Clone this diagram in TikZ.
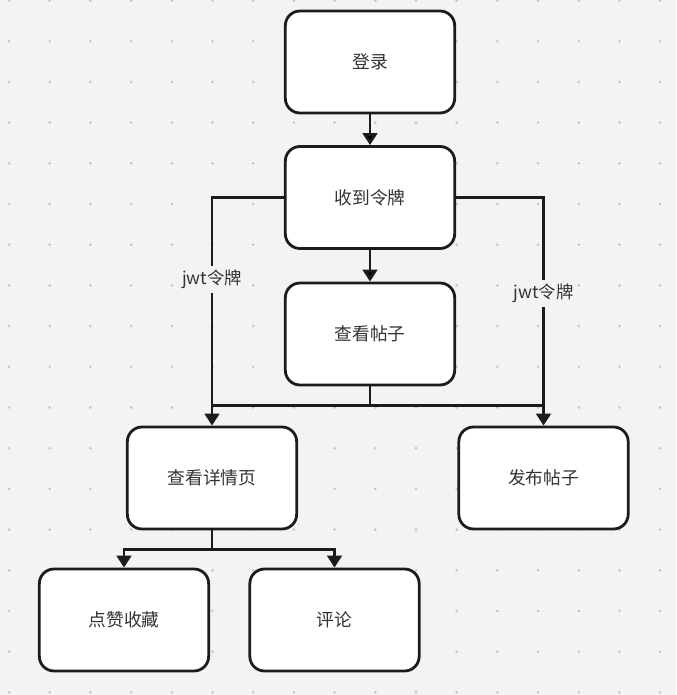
\documentclass[tikz,border=0pt]{standalone}
\usepackage{fontspec}
\setmainfont{Noto Sans CJK SC}
\usepackage{tikz}
\usetikzlibrary{arrows.meta, positioning}
\definecolor{bg}{HTML}{F3F3F5}
\definecolor{dotc}{HTML}{C6C6CA}
\definecolor{ink}{HTML}{1C1C1C}
\definecolor{txt}{HTML}{333333}

\begin{document}
\begin{tikzpicture}[x=0.75pt, y=-0.75pt,
	box/.style={draw=ink, fill=white, line width=2.1pt, rounded corners=11pt, minimum width=127pt, minimum height=76.5pt, inner sep=0pt, font=\fontsize{13.3}{15}\selectfont, text=txt},
	line/.style={draw=ink, line width=2pt},
	arr/.style={-{Triangle[width=11pt, length=9pt]}},
	lbl/.style={fill=bg, text=txt, inner sep=3pt, font=\fontsize{13}{15}\selectfont}]
		\useasboundingbox (0,0) rectangle (676,695);
		\fill[bg] (0,0) rectangle (676,695);
		\foreach \i in {0,...,16}
			\foreach \j in {0,...,17}
				\fill[dotc] (9+40.7*\i, 0.5+40.7*\j) circle (1.1pt);

		\node[box] (login) at (370,62) {登录};
		\node[box] (token) at (370,197.5) {收到令牌};
		\node[box] (posts) at (370,334) {查看帖子};
		\node[box] (detail) at (212,478) {查看详情页};
		\node[box] (publish) at (543.5,478) {发布帖子};
		\node[box] (like) at (124,620) {点赞收藏};
		\node[box] (comment) at (334.5,620) {评论};

		\path[line]
			(login) edge[arr] (token)
			(token) edge[arr] (posts);
		\draw[line, arr] (token.west) -| node[lbl, pos=0.68] {jwt令牌} (detail.north);
		\draw[line, arr] (token.east) -| node[lbl, pos=0.71] {jwt令牌} (publish.north);
		\draw[line] (posts.south) -- ++(0,19) coordinate (bus);
		\draw[line] (bus -| detail) -- (bus -| publish);
		\draw[line, arr] (detail.south) -- ++(0,19) -| (like.north);
		\draw[line, arr] (detail.south) -- ++(0,19) -| (comment.north);
\end{tikzpicture}
\end{document}
